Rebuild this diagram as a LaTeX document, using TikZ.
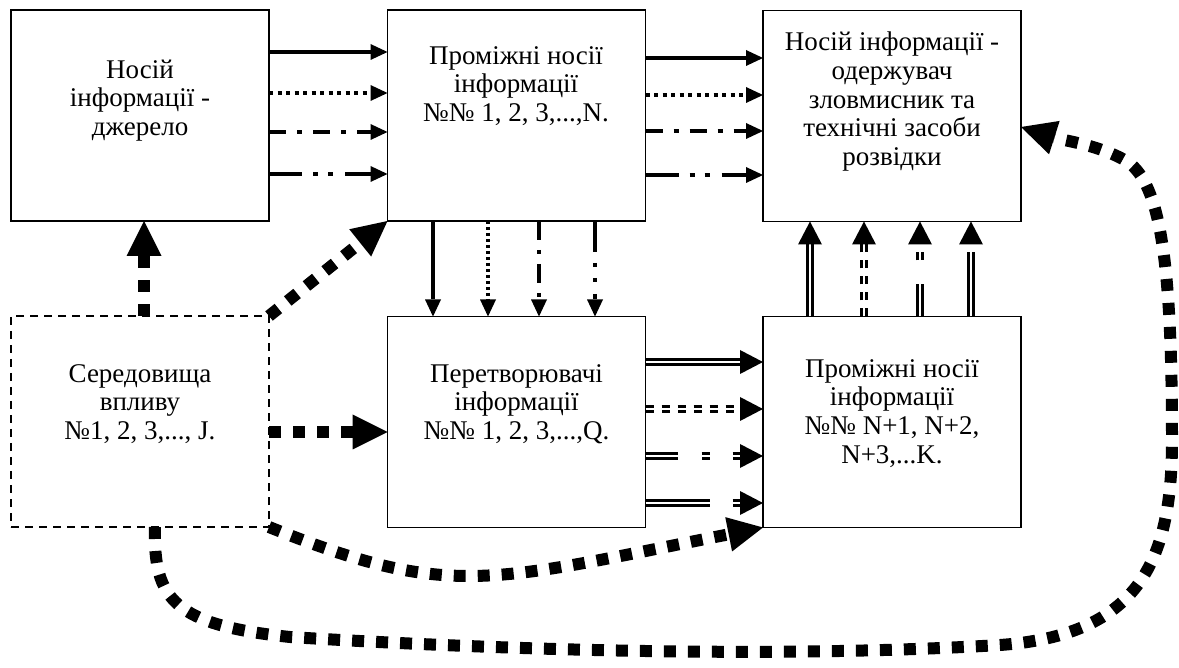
\documentclass[tikz,border=0pt]{standalone}
\usepackage{fontspec}
\setmainfont{Liberation Serif}
\usetikzlibrary{arrows.meta,calc}
\begin{document}
\begin{tikzpicture}[x=1pt,y=-1pt,
 box/.style={draw, line width=1.6pt, inner sep=0pt, outer sep=0pt, minimum width=258pt, minimum height=211pt},
 dbox/.style={box, line width=1.5pt, dash pattern=on 8pt off 6pt},
 txt/.style={font=\fontsize{27}{28.75}\selectfont, align=center, inner sep=0pt, outer sep=0pt, anchor=north},
 tipS/.style={-{Triangle[length=17pt,width=16pt,line width=0pt]}},
 sarr/.style={line width=3.8pt, tipS},
 sdot/.style={sarr, dash pattern=on 4pt off 4.5pt},
 sdd/.style={sarr, dash pattern=on 17pt off 11pt on 5pt off 11pt},
 sddd/.style={sarr, dash pattern=on 33pt off 11pt on 5pt off 10pt on 5pt off 12pt},
 vdot/.style={sarr, dash pattern=on 3pt off 3pt},
 vdd/.style={sarr, dash pattern=on 19pt off 10pt on 4pt off 10pt},
 vddd/.style={sarr, dash pattern=on 31pt off 11pt on 4pt off 11pt on 4pt off 12pt},
 dbl/.style={double=white, line width=2.5pt, double distance=2.4pt, shorten >=22pt},
 ddash/.style={dbl, dash pattern=on 8pt off 8pt},
 ddd/.style={dbl, dash pattern=on 32pt off 24pt on 8pt off 23pt},
 dlong/.style={dbl, dash pattern=on 64pt off 23pt},
 dtip/.style={line width=0.4pt, -{Triangle[length=23pt,width=24pt,line width=0pt]}},
 fat/.style={line width=12pt, dash pattern=on 12pt off 12pt, -{Triangle[length=35pt,width=35pt,line width=0pt]}},
]
\fill[white] (0,0) rectangle (1179,668);
\useasboundingbox (0,0) rectangle (1179,668);

% boxes
\node[box] (b1) at (140,115.5) {};
\node[box] (b2) at (516.5,115.5) {};
\node[box] (b3) at (892,116) {};
\node[dbox] (b4) at (140,421.5) {};
\node[box] (b5) at (516.5,422) {};
\node[box] (b6) at (892,422) {};

% texts
\node[txt] (t1) at (140,57.9) {\strut Носій\\інформації -\\джерело};
\node[txt] (t2) at (516,43.9) {\strut Проміжні носії\\інформації\\№№ 1, 2, 3,...,N.};
\node[txt] (t3) at (892,30.4) {\strut Носій інформації -\\одержувач\\зловмисник та\\технічні засоби\\розвідки};
\node[txt] (t4) at (140,361.9) {\strut Середовища\\впливу\\№1, 2, 3,..., J.};
\node[txt] (t5) at (516.5,361.9) {\strut Перетворювачі\\інформації\\№№ 1, 2, 3,...,Q.};
\node[txt] (t6) at (892,356.9) {\strut Проміжні носії\\інформації\\№№ N+1, N+2,\\N+3,...K.};

% b1 -> b2
\draw[sarr] (b1.east |- 0,52) -- (b2.west |- 0,52);
\draw[sdot] (b1.east |- 0,93) -- (b2.west |- 0,93);
\draw[sdd]  (b1.east |- 0,132) -- (b2.west |- 0,132);
\draw[sddd] (b1.east |- 0,174) -- (b2.west |- 0,174);
% b2 -> b3
\draw[sarr] (b2.east |- 0,58) -- (b3.west |- 0,58);
\draw[sdot] (b2.east |- 0,95) -- (b3.west |- 0,95);
\draw[sdd]  (b2.east |- 0,131) -- (b3.west |- 0,131);
\draw[sddd] (b2.east |- 0,175) -- (b3.west |- 0,175);
% b2 -> b5
\draw[sarr] (b2.south -| 433,0) -- (b5.north -| 433,0);
\draw[vdot] (b2.south -| 488,0) -- (b5.north -| 488,0);
\draw[vdd]  (b2.south -| 539,0) -- (b5.north -| 539,0);
\draw[vddd] (b2.south -| 595,0) -- (b5.north -| 595,0);
% b5 -> b6 (double)
\draw[dbl]   (b5.east |- 0,362) -- (b6.west |- 0,362);
\draw[dtip]  ($(b6.west |- 0,362)+(-23,0)$) -- (b6.west |- 0,362);
\draw[ddash] (b5.east |- 0,409) -- (b6.west |- 0,409);
\draw[dtip]  ($(b6.west |- 0,409)+(-23,0)$) -- (b6.west |- 0,409);
\draw[ddd]   (b5.east |- 0,456) -- (b6.west |- 0,456);
\draw[dtip]  ($(b6.west |- 0,456)+(-23,0)$) -- (b6.west |- 0,456);
\draw[dlong] (b5.east |- 0,503) -- (b6.west |- 0,503);
\draw[dtip]  ($(b6.west |- 0,503)+(-23,0)$) -- (b6.west |- 0,503);
% b6 -> b3 (double, upward)
\draw[dbl]   (b6.north -| 810,0) -- (b3.south -| 810,0);
\draw[dtip]  ($(b3.south -| 810,0)+(0,23)$) -- (b3.south -| 810,0);
\draw[ddash] (b6.north -| 864,0) -- (b3.south -| 864,0);
\draw[dtip]  ($(b3.south -| 864,0)+(0,23)$) -- (b3.south -| 864,0);
\draw[ddd]   (b6.north -| 920,0) -- (b3.south -| 920,0);
\draw[dtip]  ($(b3.south -| 920,0)+(0,23)$) -- (b3.south -| 920,0);
\draw[dlong] (b6.north -| 971,0) -- (b3.south -| 971,0);
\draw[dtip]  ($(b3.south -| 971,0)+(0,23)$) -- (b3.south -| 971,0);

% thick dotted influences
\draw[fat] (b4.north -| 144,0) -- (b1.south -| 144,0);
\draw[fat] (b4.north east) -- (b2.south west);
\draw[fat] (b4.east |- 0,432) -- (b5.west |- 0,432);
\draw[fat] (b4.south east) .. controls (451,600) and (488,582) .. (b6.south west);
\coordinate (c0) at ($(b4.south west)+(144,0)$);
\draw[fat] (c0) .. controls (153,600) and (175,625) .. (290,637)
  .. controls (450,647) and (750,660) .. (1000,645)
  .. controls (1140,635) and (1172,560) .. (1172,440)
  .. controls (1172,260) and (1160,185) .. (1128,162)
  .. controls (1100,145) and (1065,141) .. (b3.east |- 0,127);
\end{tikzpicture}
\end{document}
